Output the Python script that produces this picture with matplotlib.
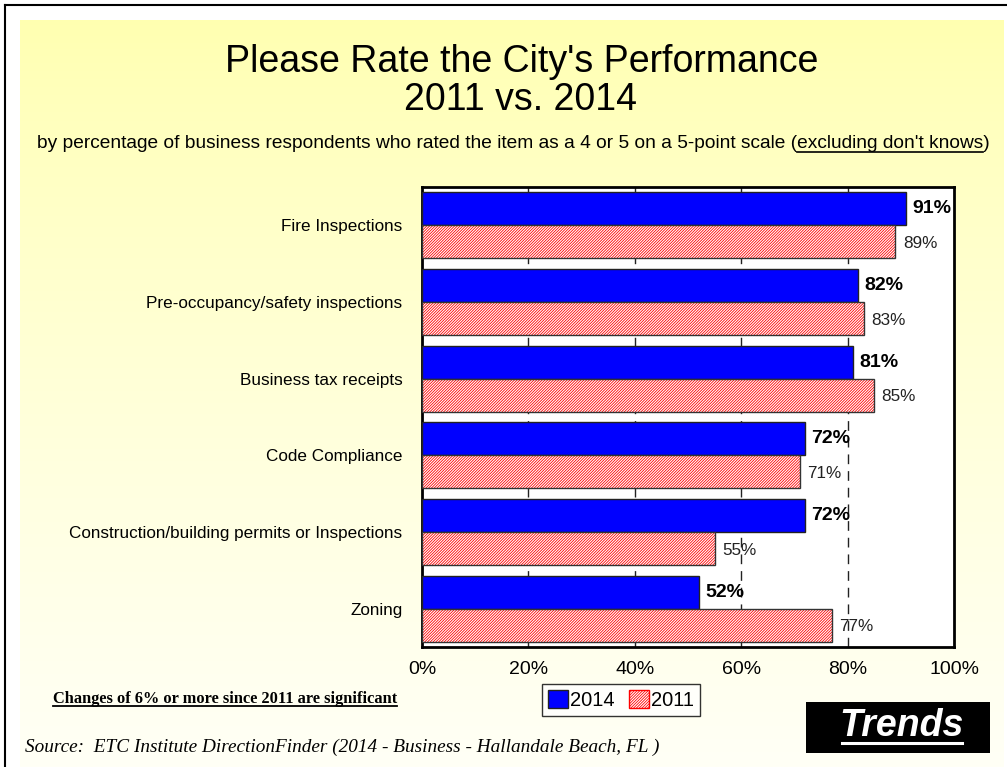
import numpy as np
import matplotlib
matplotlib.use("Agg")
import matplotlib.pyplot as plt
from matplotlib.patches import Patch, Rectangle
from matplotlib.lines import Line2D

plt.rcParams['font.family'] = ['Liberation Sans', 'DejaVu Sans']
plt.rcParams['hatch.linewidth'] = 0.6

categories = ["Fire Inspections", "Pre-occupancy/safety inspections", "Business tax receipts",
              "Code Compliance", "Construction/building permits or Inspections", "Zoning"]
vals_2014 = [91, 82, 81, 72, 72, 52]
vals_2011 = [89, 83, 85, 71, 55, 77]
xticks = [0, 20, 40, 60, 80, 100]
xtick_labels = ["0%", "20%", "40%", "60%", "80%", "100%"]

W, H = 1007, 767
fig = plt.figure(figsize=(W / 100, H / 100), dpi=100)
fig.patch.set_facecolor("white")


def fx(px):
    return px / W


def fy(py):
    return 1 - py / H


# yellow gradient background
bg = fig.add_axes([fx(20), fy(767), fx(1004 - 20), (767 - 20) / H])
grad = np.linspace(0, 1, 256).reshape(-1, 1)
top = np.array([255, 255, 176]) / 255
bot = np.array([255, 255, 246]) / 255
img = top + (bot - top) * grad[:, :, None] ** 0.8
bg.imshow(img, aspect="auto", extent=[0, 1, 0, 1])
bg.axis("off")

# outer frame lines
fig.add_artist(Line2D([fx(4.5), fx(4.5)], [fy(5), 0], color="black", lw=1.5))
fig.add_artist(Line2D([fx(4.5), 1], [fy(5), fy(5)], color="black", lw=1.5))

ax = fig.add_axes([fx(422), fy(647), fx(954 - 422), (647 - 187) / H])
ax.set_facecolor("white")

hatch = "/" * 12
y = np.arange(len(categories))
h = 0.43
ax.barh(y - h / 2, vals_2014, height=h, color="#0000FF", edgecolor="#222222", lw=1, zorder=3)
ax.barh(y + h / 2, vals_2011, height=h, color="white", edgecolor="#FF0000", hatch=hatch, lw=0, zorder=3)
ax.barh(y + h / 2, vals_2011, height=h, color="none", edgecolor="#333333", lw=1, zorder=4)

for i in range(len(categories)):
    ax.text(vals_2014[i] + 1.2, y[i] - h / 2, f"{vals_2014[i]}%", va="center", ha="left",
            fontsize=14, fontweight="bold", zorder=5)
    ax.text(vals_2011[i] + 1.4, y[i] + h / 2 + 0.02, f"{vals_2011[i]}%", va="center", ha="left",
            fontsize=12.3, color="#222222", zorder=5)

for t in xticks[1:-1]:
    ax.axvline(t, color="#222222", lw=1, ls=(0, (7, 5)), zorder=1)

ax.set_xlim(0, 100)
ax.set_ylim(5.5, -0.5)
ax.set_xticks(xticks)
ax.set_xticklabels(xtick_labels, fontsize=14)
ax.set_yticks(y)
ax.set_yticklabels(categories, fontsize=12.3)
ax.tick_params(axis="x", length=0, pad=10)
ax.tick_params(axis="y", length=0, pad=14)
for s in ax.spines.values():
    s.set_linewidth(2)
    s.set_color("black")

# titles
fig.text(fx(522), fy(62), "Please Rate the City's Performance", ha="center", va="center", fontsize=27)
fig.text(fx(520), fy(100), "2011 vs. 2014", ha="center", va="center", fontsize=27)
pre = "by percentage of business respondents who rated the item as a 4 or 5 on a 5-point scale ("
und = "excluding don't knows"
sub = fig.text(fx(513), fy(144), pre + und + ")", ha="center", va="center", fontsize=13.8)

changes = fig.text(fx(53), fy(699), "Changes of 6% or more since 2011 are significant", ha="left", va="center",
                   fontsize=11.8, fontweight="bold", family="Liberation Serif")
fig.text(fx(25), fy(747), "Source:  ETC Institute DirectionFinder (2014 - Business - Hallandale Beach, FL )",
         ha="left", va="center", fontsize=13.9, style="italic", family="Liberation Serif")

# Trends box
fig.add_artist(Rectangle((fx(806), fy(753)), fx(990 - 806), (753 - 702) / H, transform=fig.transFigure,
                         facecolor="black", edgecolor="none"))
trends = fig.text(fx(902), fy(726), "Trends", ha="center", va="center", color="white",
                  fontsize=27, fontweight="bold", style="italic")

# legend
handles = [Patch(facecolor="#0000FF", edgecolor="#222222", label="2014"),
           Patch(facecolor="white", edgecolor="#FF0000", hatch=hatch, label="2011")]
leg = fig.legend(handles=handles, loc="center", bbox_to_anchor=(fx(621), fy(700)), ncol=2, fontsize=14.5,
                 frameon=True, fancybox=False, edgecolor="black", handlelength=1.0, handleheight=1.0,
                 handletextpad=0.1, columnspacing=0.7, borderpad=0.3, borderaxespad=0)
leg.get_frame().set_linewidth(1)

# underlines
fig.canvas.draw()
r = fig.canvas.get_renderer()
inv = fig.transFigure.inverted()


def underline(x0, x1, ypx, lw=1.2, color="black"):
    (a, b) = inv.transform([(x0, ypx), (x1, ypx)])
    fig.add_artist(Line2D([a[0], b[0]], [a[1], a[1]], color=color, lw=lw))


bb = sub.get_window_extent(r)
tmp = fig.text(0, 0, pre, fontsize=13.8)
w_pre = tmp.get_window_extent(r).width
tmp2 = fig.text(0, 0, und, fontsize=13.8)
w_und = tmp2.get_window_extent(r).width
tmp.remove()
tmp2.remove()
underline(bb.x0 + w_pre, bb.x0 + w_pre + w_und, bb.y0 + 1)

bb = changes.get_window_extent(r)
underline(bb.x0, bb.x1, bb.y0 + 1, lw=1.3)

bb = trends.get_window_extent(r)
underline(bb.x0 + 2, bb.x1 - 2, bb.y0 + 1, lw=2.2, color="white")

fig.savefig("out.png", dpi=100)
